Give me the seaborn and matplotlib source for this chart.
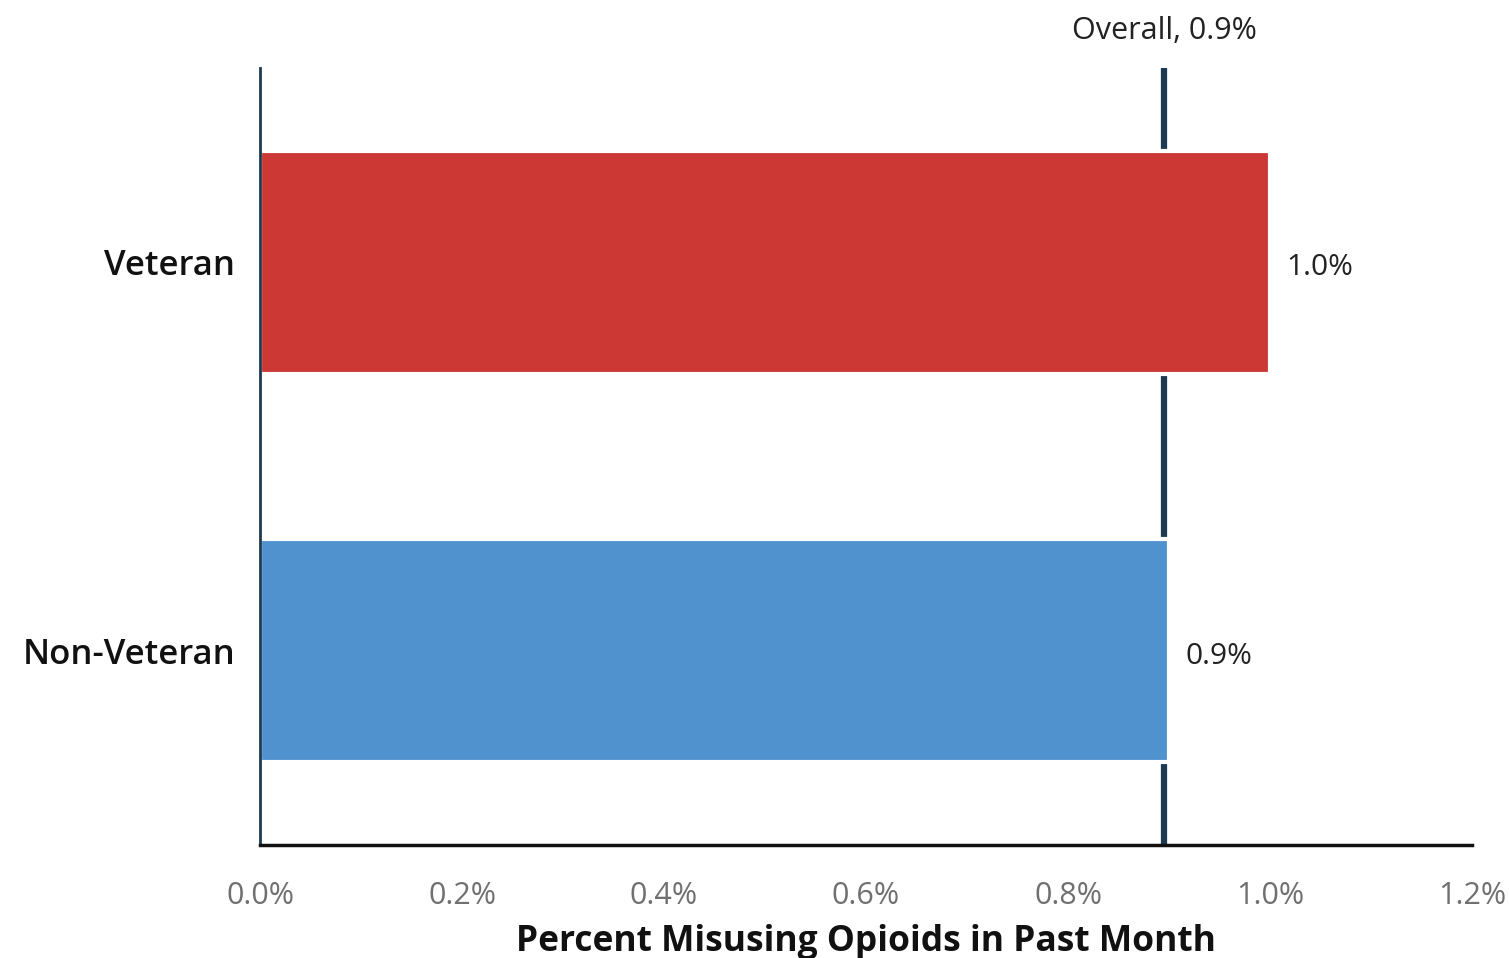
import pandas as pd
import numpy as np
import matplotlib.pyplot as plt
import seaborn as sns

groups = ['Veteran', 'Non-Veteran']
percent = [1.0, 0.9]
bar_colors = ['#cc3934', '#5092cd']
overall = 0.895
overall_label = 'Overall, 0.9%'
xticks = [0.0, 0.2, 0.4, 0.6, 0.8, 1.0, 1.2]

df = pd.DataFrame({'group': groups, 'percent': percent})

sns.set_theme(style='white')
plt.rcParams['font.family'] = ['Open Sans', 'DejaVu Sans']

fig = plt.figure(figsize=(15.09, 9.58), dpi=100)
ax = fig.add_axes([0.1723, 0.118, 0.8032, 0.811])

ax.axvline(overall, color='#1c3a52', linewidth=4.5, zorder=1)

sns.barplot(data=df, x='percent', y='group', hue='group', palette=bar_colors,
            saturation=1, width=0.575, edgecolor='white', linewidth=3,
            legend=False, ax=ax, zorder=2)

for c in ax.containers:
    texts = ax.bar_label(c, labels=[f'{v:.1f}%' for v in c.datavalues], padding=12,
                         fontsize=21.5, color='#222222')
    for t in texts:
        t.xyann = (12, -4)

ax.text(overall, 1.028, overall_label, transform=ax.get_xaxis_transform(),
        ha='center', va='bottom', fontsize=22, color='#222222')

ax.set_xlim(0, 1.2)
ax.set_ylim(1.5, -0.5)
ax.set_xticks(xticks)
ax.set_xticklabels([f'{t:.1f}%' for t in xticks], fontsize=22, color='#707070')
ax.tick_params(axis='x', length=0, pad=26)
ax.tick_params(axis='y', length=0, pad=18, labelsize=25, labelcolor='#111111')
for lab in ax.get_yticklabels():
    lab.set_fontweight('semibold')

ax.set_xlabel('Percent Misusing Opioids in Past Month', fontsize=25.5,
              fontweight='bold', color='#111111', labelpad=9)
ax.set_ylabel('')

sns.despine(ax=ax)
ax.spines['left'].set_color('#1c3a52')
ax.spines['left'].set_linewidth(2)
ax.spines['bottom'].set_color('#111111')
ax.spines['bottom'].set_linewidth(2.5)

fig.savefig('out.png', dpi=100)
